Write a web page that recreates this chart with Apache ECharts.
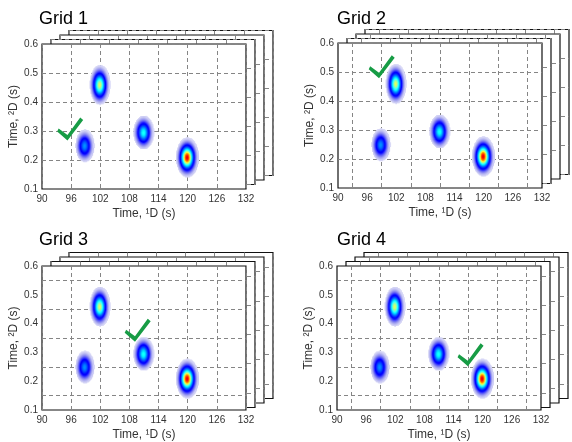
<!DOCTYPE html>
<html>
<head>
<meta charset="utf-8">
<script src="https://cdn.jsdelivr.net/npm/echarts@6/dist/echarts.min.js"></script>
<style>html,body{margin:0;padding:0;background:#fff;}#c{width:572px;height:442px;}</style>
</head>
<body>
<div id="c"></div>
<script>
// ---- data ----
const gridTitles = ['Grid 1', 'Grid 2', 'Grid 3', 'Grid 4'];
const xTickLabels = [90, 96, 102, 108, 114, 120, 126, 132];
const yTickLabels = [0.1, 0.2, 0.3, 0.4, 0.5, 0.6];
const offsetGridX = [93, 99, 105, 111, 117, 123, 129];
const offsetGridY = [0.15, 0.25, 0.35, 0.45, 0.55];
const useOffsetX = [false, true, false, true];
const useOffsetY = [false, false, true, true];
// chromatographic peaks (1D time, 2D time, relative height, widths)
const peakX = [98.8, 101.9, 110.9, 119.9];
const peakY = [0.25, 0.46, 0.296, 0.21];
const peakHeight = [0.27, 0.6, 0.4, 0.9];
const peakSigmaX = [0.68, 0.66, 0.7, 0.72];
const peakSigmaY = [0.0195, 0.022, 0.0195, 0.021];
// check marks
const checkX = [95.8, 99.0, 109.7, 117.5];
const checkY = [0.307, 0.518, 0.377, 0.292];

// ---- layout ----
const panels = [
  {left: 42, top: 44, height: 145, titleLeft: 39, titleTop: 10},
  {left: 338, top: 43, height: 145, titleLeft: 337, titleTop: 10},
  {left: 42, top: 266, height: 146, titleLeft: 39, titleTop: 231},
  {left: 337, top: 266, height: 146, titleLeft: 337, titleTop: 231}
];
const W = 204;
const FONT = 'Liberation Sans, Arial, sans-serif';

// ---- peak image cells ----
const dx = 0.2, dy = 0.0035;
const cells = [];
for (let i = 0; 90 + (i + 0.5) * dx < 132; i++) {
  const x = 90 + (i + 0.5) * dx;
  for (let j = 0; 0.1 + (j + 0.5) * dy < 0.6; j++) {
    const y = 0.1 + (j + 0.5) * dy;
    let v = 0;
    for (let k = 0; k < peakX.length; k++) {
      const ux = (x - peakX[k]) / peakSigmaX[k];
      const uy = (y - peakY[k]) / peakSigmaY[k];
      v += peakHeight[k] * Math.exp(-0.5 * (ux * ux + uy * uy));
    }
    if (v > 0.005) cells.push([x, y, v]);
  }
}
function clamp(a) { return Math.max(0, Math.min(1, a)); }
function cmap(v) {
  const r = clamp(1.5 - Math.abs(4 * v - 3));
  const g = clamp(1.5 - Math.abs(4 * v - 2));
  const b = clamp(1.5 - Math.abs(4 * v - 1) + 0.25);
  const a = Math.pow(clamp(v / 0.1), 0.65);
  const f = c => Math.round(255 * (1 - a + a * c));
  return 'rgb(' + f(r) + ',' + f(g) + ',' + f(b) + ')';
}

const grids = [], xAxes = [], yAxes = [], series = [], titles = [];
const splitStyle = {type: [4, 3], color: '#858585', width: 1};
panels.forEach((pn, p) => {
  titles.push({text: gridTitles[p], left: pn.titleLeft, top: pn.titleTop, padding: 0,
    textStyle: {fontSize: 18, fontWeight: 'normal', color: '#000', fontFamily: FONT}});
  let front = 0;
  for (let k = 3; k >= 0; k--) {
    const gi = grids.length;
    const z = 4 - k;
    const isFront = k === 0;
    grids.push({left: pn.left + 9 * k, top: pn.top - 4.5 * k, width: W, height: pn.height,
      show: true, backgroundColor: '#fff', borderColor: '#111', borderWidth: 1.2, z: z});
    const xTick = {show: false};
    if (useOffsetX[p]) xTick.customValues = offsetGridX;
    const yTick = {show: false};
    if (useOffsetY[p]) yTick.customValues = offsetGridY;
    xAxes.push({gridIndex: gi, type: 'value', min: 90, max: 132, interval: 6, z: z,
      axisLine: {show: false}, axisTick: xTick,
      axisLabel: {show: isFront, fontSize: 10, color: '#333', margin: 5, fontFamily: FONT,
        customValues: xTickLabels},
      splitLine: {show: true, lineStyle: splitStyle},
      name: isFront ? 'Time, ¹D (s)' : '', nameLocation: 'middle', nameGap: 19,
      nameTextStyle: {fontSize: 12, color: '#333', fontFamily: FONT}});
    yAxes.push({gridIndex: gi, type: 'value', min: 0.1, max: 0.6, interval: 0.1, z: z,
      axisLine: {show: false}, axisTick: yTick,
      axisLabel: {show: isFront, fontSize: 10, color: '#333', margin: 4, fontFamily: FONT,
        customValues: yTickLabels, formatter: v => v.toFixed(1)},
      splitLine: {show: true, lineStyle: splitStyle},
      name: isFront ? 'Time, ²D (s)' : '', nameLocation: 'middle', nameGap: 22,
      nameTextStyle: {fontSize: 12, color: '#333', fontFamily: FONT}});
    if (isFront) front = gi;
  }
  series.push({type: 'custom', xAxisIndex: front, yAxisIndex: front, z: 5, silent: true,
    clip: true, data: cells,
    renderItem: (params, api) => {
      const x = api.value(0), y = api.value(1), v = api.value(2);
      const a = api.coord([x - dx / 2, y + dy / 2]);
      const b = api.coord([x + dx / 2, y - dy / 2]);
      return {type: 'rect', shape: {x: a[0], y: a[1], width: b[0] - a[0] + 0.6, height: b[1] - a[1] + 0.6},
        style: {fill: cmap(v)}};
    }});
  series.push({type: 'scatter', xAxisIndex: front, yAxisIndex: front, z: 6, silent: true,
    symbol: 'path://M1.5,11L10.5,17.5L23.5,0L26.5,2.5L10.5,23L0,14Z',
    symbolSize: [26, 23], itemStyle: {color: '#179c45', opacity: 1},
    data: [[checkX[p], checkY[p]]]});
});

const chart = echarts.init(document.getElementById('c'));
chart.setOption({
  animation: false,
  backgroundColor: '#fff',
  title: titles,
  grid: grids,
  xAxis: xAxes,
  yAxis: yAxes,
  series: series
});
</script>
</body>
</html>
